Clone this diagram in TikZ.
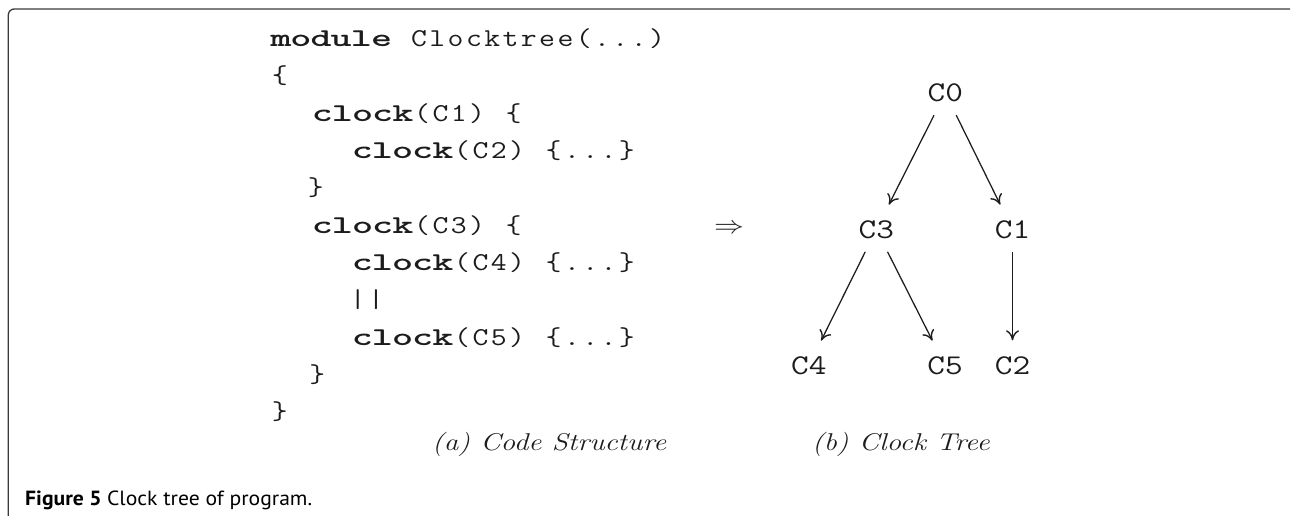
\documentclass[tikz,border=0pt]{standalone}
\usepackage{fontspec}
\usepackage{graphicx}
\usetikzlibrary{arrows.meta}
\newfontfamily\capsans{PT Sans}
\definecolor{framegray}{HTML}{3A3A3A}
\definecolor{inkblack}{HTML}{1C1C1C}

% fixed-pitch code setting: every character sits in a cell of its own
\newlength\regcell \setlength\regcell{15.25pt}
\newlength\boldcell \setlength\boldcell{16.8pt}
\newcommand\codereg[1]{\coderegloop#1\relax}
\def\coderegloop#1{\ifx\relax#1\else\makebox[\regcell][c]{#1}\expandafter\coderegloop\fi}
\newcommand\codebf[1]{\codebfloop#1\relax}
\def\codebfloop#1{\ifx\relax#1\else\makebox[\boldcell][c]{\scalebox{1.3}[1]{\bfseries#1}}\expandafter\codebfloop\fi}
\newcommand\cdsp{\makebox[\regcell]{}}
% the whole figure is set a little wide
\newcommand\wide[1]{\scalebox{1.2}[1]{#1}}

\tikzset{
  codeline/.style={anchor=base west, inner sep=0pt, text=inkblack,
    font=\fontsize{25.7pt}{30pt}\selectfont\ttfamily},
  treenode/.style={anchor=base, text=inkblack, outer sep=0pt,
    inner xsep=4pt, inner ysep=13.5pt, text height=17.5pt, text depth=0pt,
    font=\fontsize{28.6pt}{34pt}\selectfont\ttfamily},
  treeedge/.style={-{To[length=10pt,width=13pt,line width=1.4pt]}, line width=1.25pt,
    draw=inkblack, shorten >=3pt},
  subcap/.style={anchor=base west, inner sep=0pt, text=inkblack,
    font=\fontsize{24.3pt}{29pt}\selectfont\itshape},
}

\begin{document}
\begin{tikzpicture}[x=1pt, y=-1pt]
\useasboundingbox (0,0) rectangle (1291,516);

% panel frame
\draw[framegray, line width=1.3pt, rounded corners=6pt]
  (8.3,516) -- (8.3,9) -- (1290,9);

% (a) code structure
\node[codeline] (l1)  at (270.5,46.7)  {\wide{\codebf{module}\cdsp\codereg{Clocktree(...)}}};
\node[codeline] (l2)  at (270.5,84.0)  {\wide{\codereg{\{}}};
\node[codeline] (l3)  at (312,121.3)   {\wide{\codebf{clock}\codereg{(C1)}\cdsp\codereg{\{}}};
\node[codeline] (l4)  at (352,158.6)   {\wide{\codebf{clock}\codereg{(C2)}\cdsp\codereg{\{...\}}}};
\node[codeline] (l5)  at (306.5,195.9) {\wide{\codereg{\}}}};
\node[codeline] (l6)  at (312,233.2)   {\wide{\codebf{clock}\codereg{(C3)}\cdsp\codereg{\{}}};
\node[codeline] (l7)  at (352,270.5)   {\wide{\codebf{clock}\codereg{(C4)}\cdsp\codereg{\{...\}}}};
\node[codeline] (l8)  at (348.5,307.8) {\wide{\codereg{||}}};
\node[codeline] (l9)  at (352,345.1)   {\wide{\codebf{clock}\codereg{(C5)}\cdsp\codereg{\{...\}}}};
\node[codeline] (l10) at (308,382.4)   {\wide{\codereg{\}}}};
\node[codeline] (l11) at (270.5,419.7) {\wide{\codereg{\}}}};

% derivation arrow
\node[anchor=base west, inner sep=0pt, text=inkblack,
      font=\fontsize{26pt}{31pt}\selectfont] (impl) at (714,233.2) {\wide{$\Rightarrow$}};

% (b) clock tree
\node[treenode] (c0) at (945.3,101.7)  {\wide{C0}};
\node[treenode] (c3) at (876.3,238.3)  {\wide{C3}};
\node[treenode] (c1) at (1012.5,238.3) {\wide{C1}};
\node[treenode] (c4) at (808.8,374.3)  {\wide{C4}};
\node[treenode] (c5) at (945.0,374.3)  {\wide{C5}};
\node[treenode] (c2) at (1012.5,374.3) {\wide{C2}};

\draw[treeedge] (c0) -- (c3);
\draw[treeedge] (c0) -- (c1);
\draw[treeedge] (c3) -- (c4);
\draw[treeedge] (c3) -- (c5);
\draw[treeedge] (c1) -- (c2);

% sub-captions
\node[subcap] (capa) at (432,450.7) {\wide{(a) Code Structure}};
\node[subcap] (capb) at (812,450.7) {\wide{(b) Clock Tree}};

% figure caption
\node[anchor=base west, inner sep=0pt, text=black,
      font=\capsans\fontsize{20.5pt}{24pt}\selectfont] (figcap) at (25,505)
  {\resizebox{287pt}{\height}{\bfseries Figure 5 \mdseries Clock tree of program.}};
\end{tikzpicture}
\end{document}
